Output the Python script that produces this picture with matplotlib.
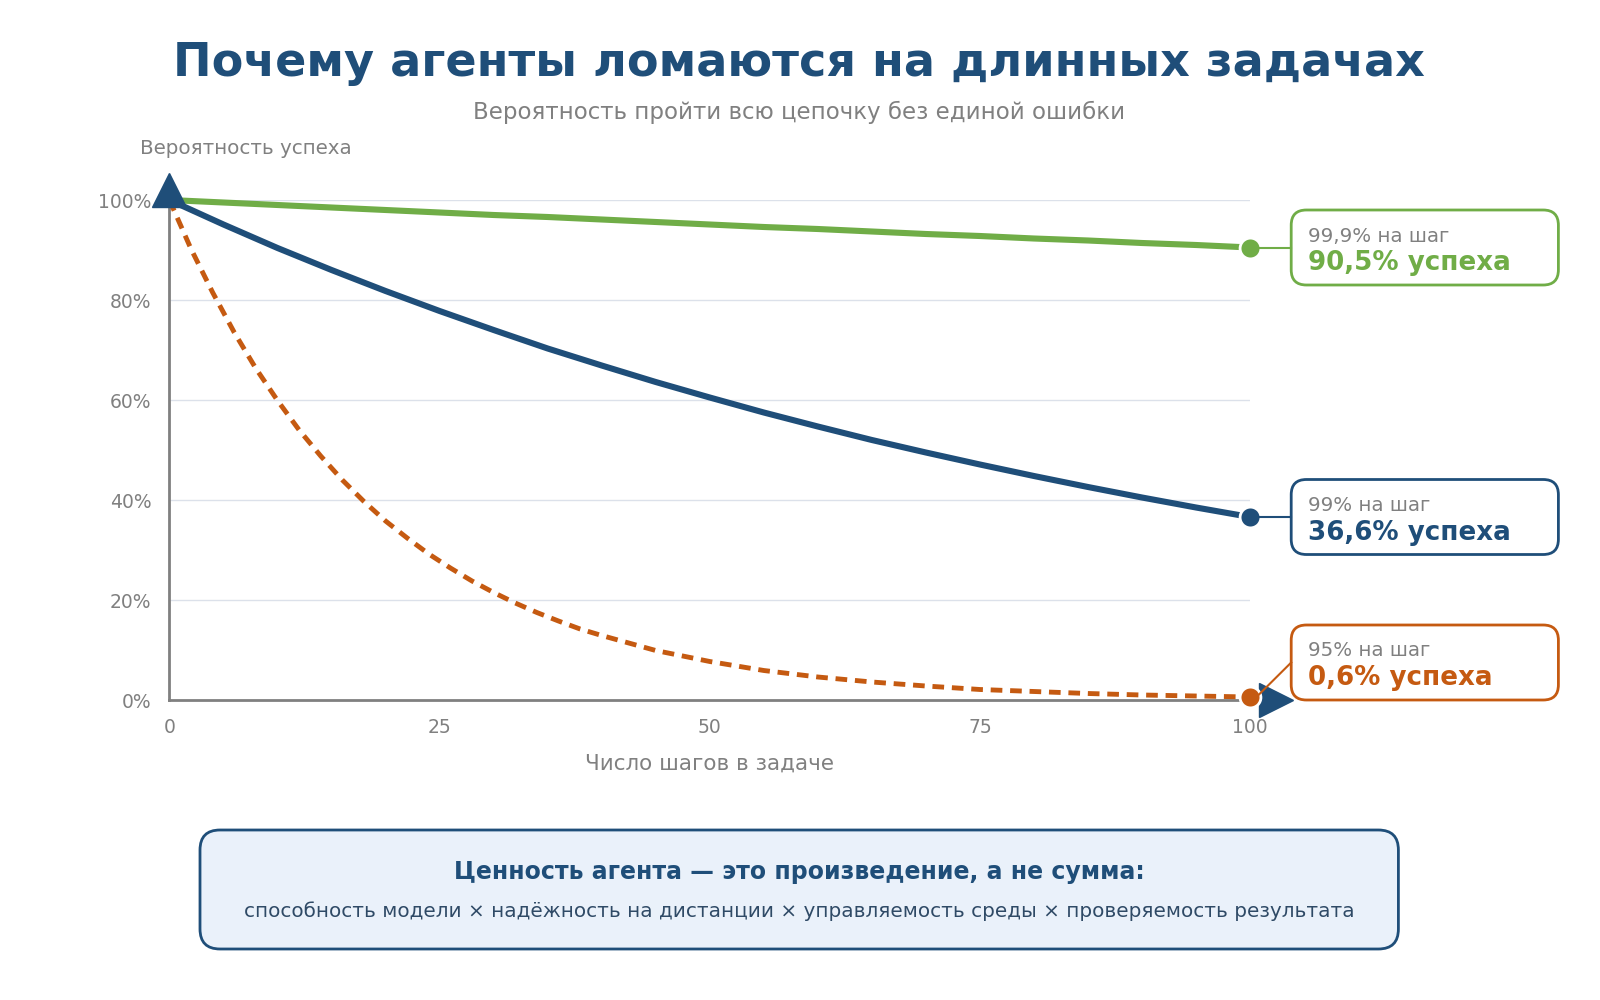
import numpy as np
import matplotlib
matplotlib.use("Agg")
import matplotlib.pyplot as plt
from matplotlib.patches import FancyBboxPatch
from matplotlib.lines import Line2D

# --- data ---
steps = [0, 5, 10, 15, 20, 25, 30, 35, 40, 45, 50, 55, 60, 65, 70, 75, 80, 85, 90, 95, 100]
p999 = [100, 99.5, 99.0, 98.5, 98.0, 97.5, 97.0, 96.6, 96.1, 95.6, 95.1,
        94.6, 94.2, 93.7, 93.2, 92.8, 92.3, 91.9, 91.4, 91.0, 90.5]
p99 = [100, 95.1, 90.4, 86.0, 81.8, 77.8, 74.0, 70.3, 66.9, 63.6, 60.5,
       57.5, 54.7, 52.0, 49.5, 47.1, 44.8, 42.6, 40.5, 38.5, 36.6]
# the 95% curve bends hard at the start, so it is read more densely there
steps_95 = [0, 2, 4, 6, 8, 10, 12, 14, 16, 18, 20, 22, 24, 26, 28, 30, 32, 34, 36, 38, 40,
            45, 50, 55, 60, 65, 70, 75, 80, 85, 90, 95, 100]
p95 = [100, 90.2, 81.5, 73.5, 66.3, 59.9, 54.0, 48.8, 44.0, 39.7, 35.8, 32.4, 29.2, 26.4,
       23.8, 21.5, 19.4, 17.5, 15.8, 14.2, 12.9,
       9.9, 7.7, 5.9, 4.6, 3.6, 2.8, 2.1, 1.7, 1.3, 1.0, 0.8, 0.6]

series_names = ["99,9% на шаг", "99% на шаг", "95% на шаг"]
final_labels = ["90,5% успеха", "36,6% успеха", "0,6% успеха"]
x_ticks = [0, 25, 50, 75, 100]
y_ticks = [0, 20, 40, 60, 80, 100]

BLUE = "#1F4E79"
GREEN = "#70AD47"
ORANGE = "#C55A11"
GRAY = "#808080"
GRID = "#DCE1EA"

plt.rcParams["font.family"] = ["DejaVu Sans"]

fig = plt.figure(figsize=(16, 10), dpi=100)
ax_l, ax_b, ax_w, ax_h = 0.1059, 0.30, 0.6754, 0.50
ax = fig.add_axes([ax_l, ax_b, ax_w, ax_h])

ax.set_xlim(0, 100)
ax.set_ylim(0, 100)
for y in y_ticks:
    ax.axhline(y, color=GRID, lw=1.0, zorder=0)

ax.plot(steps, p999, color=GREEN, lw=4.4, solid_capstyle="round", zorder=3, clip_on=False)
ax.plot(steps, p99, color=BLUE, lw=4.4, solid_capstyle="round", zorder=3, clip_on=False)
ax.plot(steps_95, p95, color=ORANGE, lw=3.5, ls=(0, (2.4, 1.6)), zorder=3, clip_on=False)

for s in ["top", "right"]:
    ax.spines[s].set_visible(False)
for s in ["left", "bottom"]:
    ax.spines[s].set_color(GRAY)
    ax.spines[s].set_linewidth(2.0)
    ax.spines[s].set_zorder(2)

# axis arrow heads
ax.plot([0], [102], marker="^", ms=25, color=BLUE, clip_on=False, zorder=4)
ax.plot([102.4], [0], marker=">", ms=25, color=BLUE, clip_on=False, zorder=4)

ax.set_xticks(x_ticks)
ax.set_xticklabels([str(t) for t in x_ticks])
ax.set_yticks(y_ticks)
ax.set_yticklabels([f"{t}%" for t in y_ticks])
ax.tick_params(axis="both", length=0, labelsize=13.5, labelcolor=GRAY)
ax.tick_params(axis="y", pad=13)
ax.tick_params(axis="x", pad=13)
ax.set_xlabel("Число шагов в задаче", fontsize=15.5, color=GRAY, labelpad=12)

# titles
fig.text(0.4995, 0.937, "Почему агенты ломаются на длинных задачах", ha="center", va="center",
         fontsize=33.2, fontweight="bold", color=BLUE)
fig.text(0.4995, 0.888, "Вероятность пройти всю цепочку без единой ошибки", ha="center", va="center",
         fontsize=16.5, color=GRAY)
fig.text(0.0875, 0.851, "Вероятность успеха", ha="left", va="center", fontsize=14.3, color=GRAY)

# end markers + callout boxes
colors = [GREEN, BLUE, ORANGE]
finals = [p999[-1], p99[-1], p95[-1]]
box_x0, box_w, box_h = 0.807, 0.167, 0.075
for name, lab, col, v in zip(series_names, final_labels, colors, finals):
    ax.plot([100], [v], marker="o", ms=15, color=col, mec="white", mew=2,
            zorder=6, clip_on=False)
    dot_y = ax_b + ax_h * v / 100
    box_y0 = max(dot_y - box_h / 2, ax_b)
    box = FancyBboxPatch((box_x0, box_y0), box_w, box_h,
                         boxstyle="round,pad=0,rounding_size=0.0095",
                         mutation_aspect=1.6, transform=fig.transFigure,
                         fc="white", ec=col, lw=2.0)
    fig.patches.append(box)
    dot_x = ax_l + ax_w
    fig.lines.append(Line2D([dot_x + 0.004, box_x0], [dot_y, box_y0 + box_h / 2],
                            transform=fig.transFigure, color=col, lw=1.5))
    fig.text(box_x0 + 0.0105, box_y0 + box_h - 0.026, name, ha="left", va="center",
             fontsize=14.3, color=GRAY)
    fig.text(box_x0 + 0.0105, box_y0 + box_h - 0.053, lab, ha="left", va="center",
             fontsize=18.8, fontweight="bold", color=col)

# bottom takeaway box
bb = FancyBboxPatch((0.125, 0.051), 0.749, 0.119,
                    boxstyle="round,pad=0,rounding_size=0.0125",
                    mutation_aspect=1.6, transform=fig.transFigure,
                    fc="#EAF1FA", ec=BLUE, lw=2.0)
fig.patches.append(bb)
fig.text(0.4995, 0.128, "Ценность агента — это произведение, а не сумма:", ha="center", va="center",
         fontsize=17, fontweight="bold", color=BLUE)
fig.text(0.4995, 0.089,
         "способность модели × надёжность на дистанции × управляемость среды × проверяемость результата",
         ha="center", va="center", fontsize=14.4, color="#2F4A66")

fig.savefig("out.png", dpi=100)
